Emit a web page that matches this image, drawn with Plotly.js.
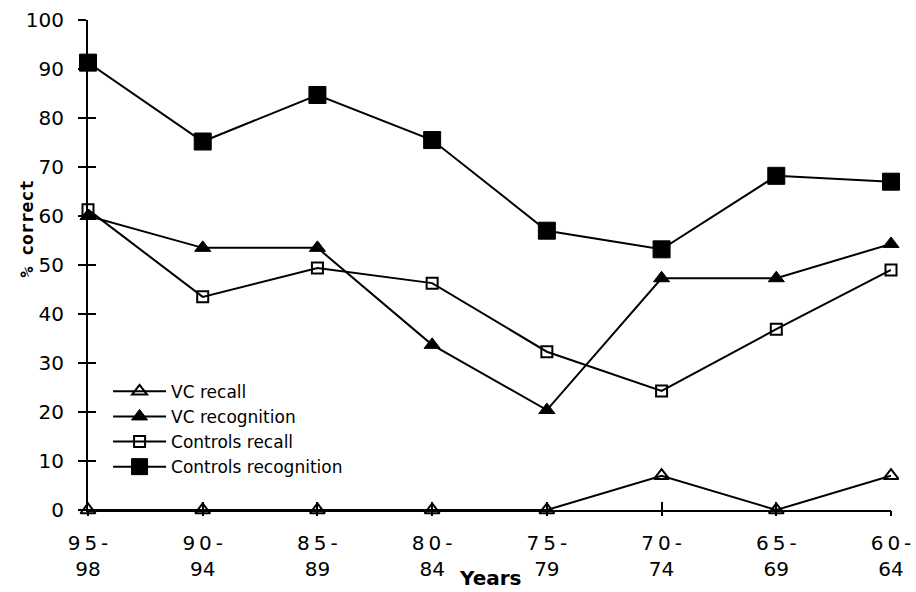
<!DOCTYPE html>
<html>
<head>
<meta charset="utf-8">
<script src="https://cdn.plot.ly/plotly-3.0.1.min.js"></script>
<style>html,body{margin:0;padding:0;background:#fff;}#chart{width:916px;height:592px;}</style>
</head>
<body>
<div id="chart"></div>
<script>
var categories = ["95-98", "90-94", "85-89", "80-84", "75-79", "70-74", "65-69", "60-64"];
var tickLabels = ["9\u20095\u2009-<br>98", "9\u20090\u2009-<br>94", "8\u20095\u2009-<br>89", "8\u20090\u2009-<br>84",
                  "7\u20095\u2009-<br>79", "7\u20090\u2009-<br>74", "6\u20095\u2009-<br>69", "6\u20090\u2009-<br>64"];
var vcRecall = [0, 0, 0, 0, 0, 7, 0, 7];
var vcRecognition = [60, 53.5, 53.5, 33.7, 20.4, 47.3, 47.3, 54.3];
var controlsRecall = [61.3, 43.5, 49.4, 46.3, 32.3, 24.3, 36.9, 49];
var controlsRecognition = [91.3, 75.2, 84.7, 75.5, 57, 53.2, 68.2, 67];

var lineStyle = {color: "#000", width: 2};
var idx = categories.map(function(c, i){ return i; });

var traces = [
  {x: idx, y: vcRecall, name: "VC recall", mode: "lines+markers", line: lineStyle, cliponaxis: false,
   marker: {symbol: "triangle-up-open", size: 13, color: "#000", line: {width: 2, color: "#000"}}},
  {x: idx, y: vcRecognition, name: "VC recognition", mode: "lines+markers", line: lineStyle, cliponaxis: false,
   marker: {symbol: "triangle-up", size: 14, color: "#000", line: {width: 1, color: "#000"}}},
  {x: idx, y: controlsRecall, name: "Controls recall", mode: "lines+markers", line: lineStyle, cliponaxis: false,
   marker: {symbol: "square-open", size: 11, color: "#000", line: {width: 2, color: "#000"}}},
  {x: idx, y: controlsRecognition, name: "Controls recognition", mode: "lines+markers", line: lineStyle, cliponaxis: false,
   marker: {symbol: "square", size: 17, color: "#000", line: {width: 1, color: "#000"}}},
  {x: [], y: [], xaxis: "x2", yaxis: "y2", showlegend: false, hoverinfo: "skip", mode: "lines"}
];

var layout = {
  width: 916, height: 592,
  margin: {l: 88, r: 25, t: 20, b: 82},
  paper_bgcolor: "#fff", plot_bgcolor: "#fff",
  font: {family: "DejaVu Sans", color: "#000", size: 20},
  showlegend: true,
  legend: {x: 0.025, y: 0.278, xanchor: "left", yanchor: "top", bgcolor: "rgba(0,0,0,0)",
           font: {family: "DejaVu Sans", size: 17, color: "#000"}, tracegroupgap: 0, itemwidth: 53},
  xaxis: {
    range: [0, 7], tickmode: "array", tickvals: idx, ticktext: tickLabels,
    showgrid: false, zeroline: false, showline: true, linecolor: "#000", linewidth: 2,
    ticks: "inside", ticklen: 8, tickwidth: 2, tickcolor: "#000", ticklabelstandoff: 14,
    tickfont: {family: "DejaVu Sans", size: 20, color: "#000"}
  },
  yaxis: {
    range: [0, 100], dtick: 10,
    showgrid: false, zeroline: false, showline: true, linecolor: "#000", linewidth: 2,
    ticks: "outside", ticklen: 8, tickwidth: 2, tickcolor: "#000", ticklabelstandoff: 10,
    tickfont: {family: "DejaVu Sans", size: 20, color: "#000"}
  },
  xaxis2: {
    overlaying: "x", anchor: "y2", side: "bottom", range: [0, 7], tickmode: "array", tickvals: idx,
    showticklabels: false, showgrid: false, zeroline: false, showline: false,
    ticks: "outside", ticklen: 5, tickwidth: 2, tickcolor: "#000"
  },
  yaxis2: {
    overlaying: "y", anchor: "x2", side: "left", range: [0, 100], dtick: 10,
    showticklabels: false, showgrid: false, zeroline: false, showline: false,
    ticks: "inside", ticklen: 8, tickwidth: 2, tickcolor: "#000"
  },
  annotations: [
    {text: "<b>% correct</b>", xref: "paper", yref: "paper", x: -0.077, y: 0.575,
     xanchor: "center", yanchor: "middle", textangle: -90, showarrow: false,
     font: {family: "DejaVu Sans Mono", size: 18, color: "#000"}},
    {text: "<b>Years</b>", xref: "paper", yref: "paper", x: 0.5, y: -0.165,
     xanchor: "center", yanchor: "bottom", showarrow: false, borderpad: 0,
     font: {family: "DejaVu Sans", size: 20, color: "#000"}}
  ]
};

Plotly.newPlot("chart", traces, layout, {displayModeBar: false, staticPlot: true});
</script>
</body>
</html>
